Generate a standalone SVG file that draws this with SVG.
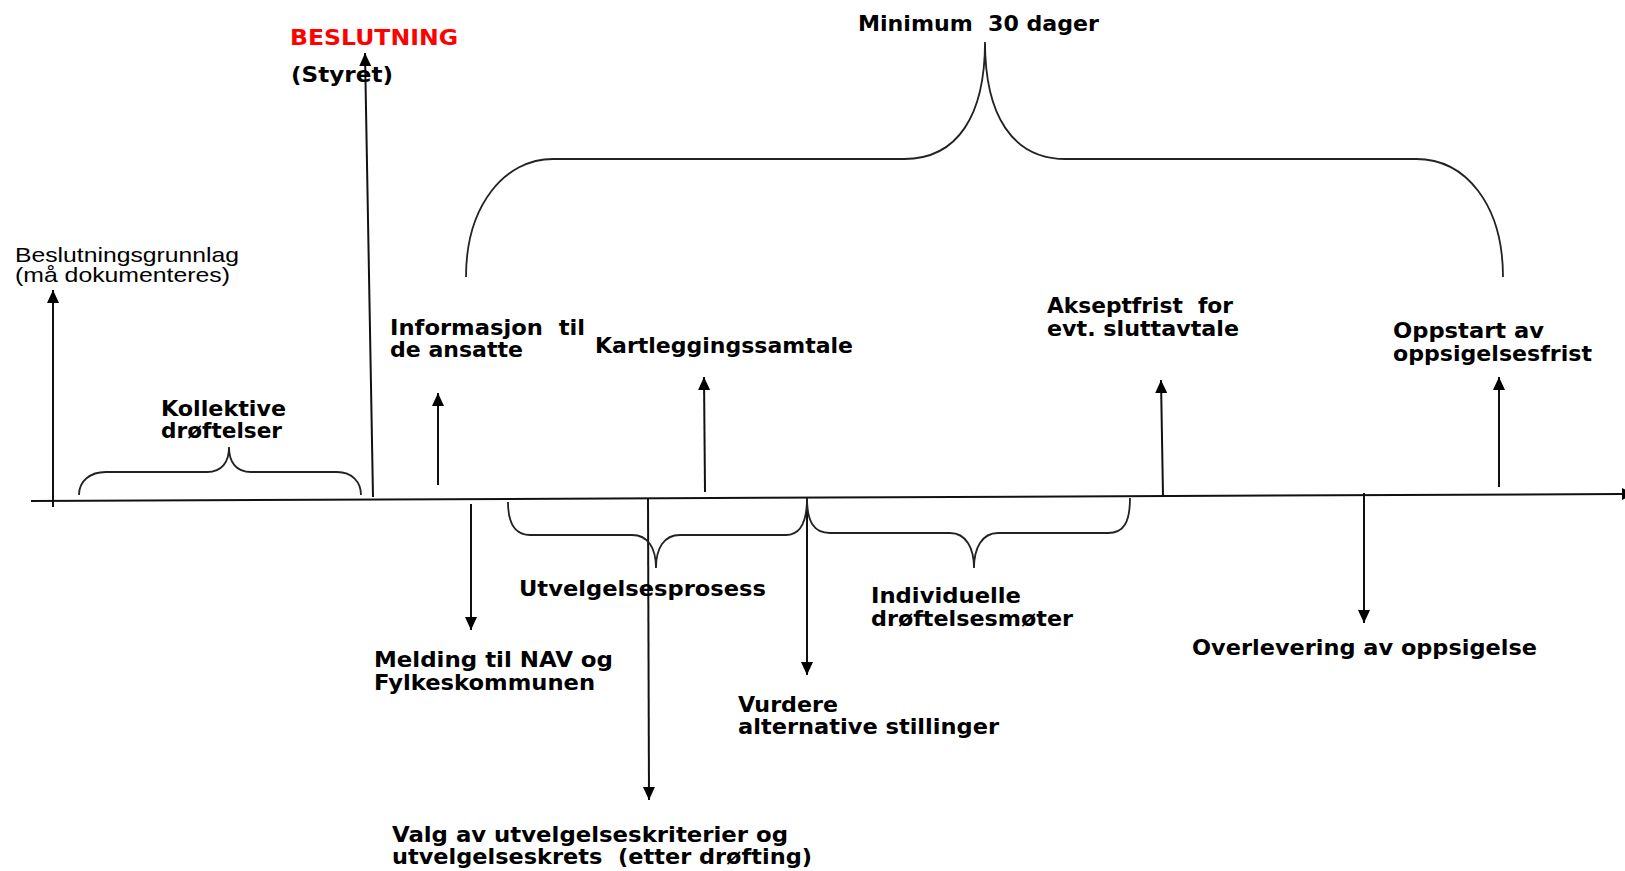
<svg xmlns="http://www.w3.org/2000/svg" width="1625" height="871" viewBox="0 0 1625 871">
<style>
.t{font-family:"DejaVu Sans",Verdana,sans-serif;font-weight:bold;font-size:22px;fill:#000}
.a{font-family:"Liberation Sans",Arial,sans-serif;font-size:21px;fill:#000}
.red{fill:#FF0000}
.ln{stroke:#111;stroke-width:2;fill:none}
.br{stroke:#222;stroke-width:1.8;fill:none}
</style>
<defs>
<marker id="ah" viewBox="0 0 13 12" refX="13" refY="6" markerWidth="13" markerHeight="12" markerUnits="userSpaceOnUse" orient="auto">
<path d="M0,0 L13,6 L0,12 z" fill="#000"/>
</marker>
</defs>
<rect width="1625" height="871" fill="#fff"/>

<g id="connectors">
<line id="axis" class="ln" x1="31" y1="501" x2="1622" y2="494"/>
<polygon points="1622,488 1622,500 1634,494" fill="#000"/>
<line class="ln" x1="53" y1="507" x2="53" y2="290" marker-end="url(#ah)"/>
<line class="ln" x1="373" y1="497" x2="365" y2="53" marker-end="url(#ah)"/>
<line class="ln" x1="438" y1="485" x2="438" y2="393" marker-end="url(#ah)"/>
<line class="ln" x1="705" y1="492" x2="704" y2="377" marker-end="url(#ah)"/>
<line class="ln" x1="1163" y1="496" x2="1161" y2="380" marker-end="url(#ah)"/>
<line class="ln" x1="1499" y1="487" x2="1499" y2="377" marker-end="url(#ah)"/>
<line class="ln" x1="471" y1="504" x2="471" y2="630" marker-end="url(#ah)"/>
<line class="ln" x1="648" y1="499" x2="649" y2="800" marker-end="url(#ah)"/>
<line class="ln" x1="807" y1="499" x2="807" y2="675" marker-end="url(#ah)"/>
<line class="ln" x1="1364" y1="493" x2="1364" y2="623" marker-end="url(#ah)"/>
<path id="brace-kollektive" class="br" d="M79,495 C79,481 90,472 106,472 L207,472 C222,472 229,462 229,447 C229,462 236,472 251,472 L337,472 C352,472 361,482 361,495"/>
<path id="brace-30" class="br" d="M466,277 C466,205 505,159 553,159 L904,159 C958,159 985,115 985,42 C985,115 1012,159 1066,159 L1416,159 C1466,159 1503,205 1503,277"/>
<path id="brace-utvelg" class="br" d="M508,502 C508,522 514,535 530,535 L632,535 C648,535 656,548 656,568 C656,548 664,535 680,535 L786,535 C800,535 807,522 807,498"/>
<path id="brace-indiv" class="br" d="M807,498 C807,522 814,533 830,533 L950,533 C966,533 974,548 974,568 C974,548 982,533 998,533 L1108,533 C1124,533 1130,522 1130,498"/>
</g>

<g id="n-beslutning">
<text class="t red" x="290" y="45" textLength="168" lengthAdjust="spacingAndGlyphs">BESLUTNING</text>
<text class="t" x="291" y="82" textLength="102" lengthAdjust="spacingAndGlyphs">(Styret)</text>
</g>
<g id="n-minimum">
<text class="t" x="858" y="31" textLength="241" lengthAdjust="spacingAndGlyphs" xml:space="preserve">Minimum  30 dager</text>
</g>
<g id="n-grunnlag">
<text class="a" x="15" y="262" textLength="224" lengthAdjust="spacingAndGlyphs">Beslutningsgrunnlag</text>
<text class="a" x="15" y="282" textLength="215" lengthAdjust="spacingAndGlyphs">(må dokumenteres)</text>
</g>
<g id="n-informasjon">
<text class="t" x="390" y="335" textLength="195" lengthAdjust="spacingAndGlyphs" xml:space="preserve">Informasjon  til</text>
<text class="t" x="390" y="357" textLength="133" lengthAdjust="spacingAndGlyphs">de ansatte</text>
</g>
<g id="n-kartlegging">
<text class="t" x="595" y="353" textLength="258" lengthAdjust="spacingAndGlyphs">Kartleggingssamtale</text>
</g>
<g id="n-akseptfrist">
<text class="t" x="1047" y="313" textLength="186" lengthAdjust="spacingAndGlyphs" xml:space="preserve">Akseptfrist  for</text>
<text class="t" x="1047" y="336" textLength="192" lengthAdjust="spacingAndGlyphs">evt. sluttavtale</text>
</g>
<g id="n-oppstart">
<text class="t" x="1393" y="338" textLength="151" lengthAdjust="spacingAndGlyphs">Oppstart av</text>
<text class="t" x="1393" y="361" textLength="199" lengthAdjust="spacingAndGlyphs">oppsigelsesfrist</text>
</g>
<g id="n-kollektive">
<text class="t" x="161" y="416" textLength="125" lengthAdjust="spacingAndGlyphs">Kollektive</text>
<text class="t" x="161" y="438" textLength="121" lengthAdjust="spacingAndGlyphs">drøftelser</text>
</g>
<g id="n-utvelgelse">
<text class="t" x="519" y="596" textLength="247" lengthAdjust="spacingAndGlyphs">Utvelgelsesprosess</text>
</g>
<g id="n-individuelle">
<text class="t" x="871" y="603" textLength="150" lengthAdjust="spacingAndGlyphs">Individuelle</text>
<text class="t" x="871" y="626" textLength="202" lengthAdjust="spacingAndGlyphs">drøftelsesmøter</text>
</g>
<g id="n-melding">
<text class="t" x="374" y="667" textLength="239" lengthAdjust="spacingAndGlyphs">Melding til NAV og</text>
<text class="t" x="374" y="690" textLength="221" lengthAdjust="spacingAndGlyphs">Fylkeskommunen</text>
</g>
<g id="n-overlevering">
<text class="t" x="1192" y="655" textLength="345" lengthAdjust="spacingAndGlyphs">Overlevering av oppsigelse</text>
</g>
<g id="n-vurdere">
<text class="t" x="738" y="712" textLength="100" lengthAdjust="spacingAndGlyphs">Vurdere</text>
<text class="t" x="738" y="734" textLength="261" lengthAdjust="spacingAndGlyphs">alternative stillinger</text>
</g>
<g id="n-valg">
<text class="t" x="392" y="842" textLength="396" lengthAdjust="spacingAndGlyphs">Valg av utvelgelseskriterier og</text>
<text class="t" x="392" y="864" textLength="420" lengthAdjust="spacingAndGlyphs" xml:space="preserve">utvelgelseskrets  (etter drøfting)</text>
</g>
</svg>
